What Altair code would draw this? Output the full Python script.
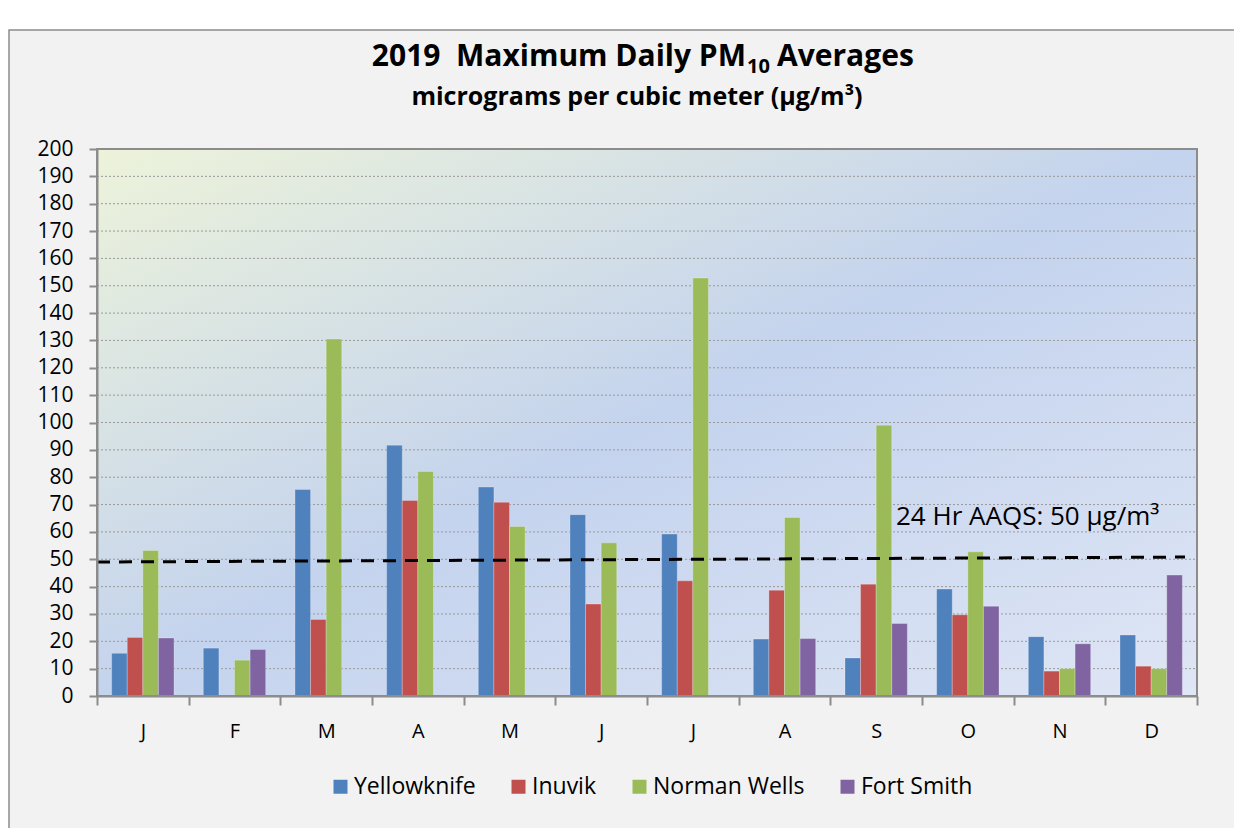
import altair as alt
import pandas as pd

# ---------------- data ----------------
months = ["Jan", "Feb", "Mar", "Apr", "May", "Jun", "Jul", "Aug", "Sep", "Oct", "Nov", "Dec"]
stations = ["Yellowknife", "Inuvik", "Norman Wells", "Fort Smith"]
colors = ["#4f81bd", "#c0504d", "#9bbb59", "#8064a2"]

yellowknife = [15.6, 17.5, 75.5, 91.7, 76.4, 66.3, 59.2, 20.8, 13.9, 39.1, 21.7, 22.3]
inuvik = [21.4, None, 28.0, 71.5, 70.8, 33.6, 42.1, 38.7, 40.9, 29.7, 9.1, 10.9]
norman_wells = [53.2, 13.1, 130.5, 82.1, 62.0, 56.0, 152.8, 65.3, 99.0, 52.7, 10.0, 10.0]
fort_smith = [21.2, 17.0, None, None, None, None, None, 21.0, 26.5, 32.8, 19.1, 44.2]

y_ticks = list(range(0, 201, 10))
standard_start = 49.0
standard_end = 50.8
standard_label = "24 Hr AAQS: 50 µg/m³"

title_main = "2019\u00a0\u00a0Maximum Daily PM"
title_sub = "10"
title_end = "Averages"
subtitle = "micrograms per cubic meter (µg/m³)"

series = [yellowknife, inuvik, norman_wells, fort_smith]
rows = []
for s, vals in zip(stations, series):
    for m, v in zip(months, vals):
        if v is not None:
            rows.append({"Month": m, "Station": s, "value": v})
df = pd.DataFrame(rows)

W, H = 1100, 547
FONT = "Open Sans"

one = pd.DataFrame({"a": [0]})

yscale = alt.Scale(domain=[0, 200], nice=False)
yaxis = alt.Axis(
    title=None, values=y_ticks, grid=False, tickSize=8, tickColor="#8c8c8c", tickWidth=2,
    domain=True, domainColor="#8c8c8c", domainWidth=2, labelOverlap=False,
    labelFontSize=21, labelFont=FONT, labelColor="#000000", labelPadding=16, zindex=1,
)

# outer frame
frame = alt.Chart(one).mark_rect(fill="#f2f2f2", stroke="#8c8c8c", strokeWidth=1.5).encode(
    x=alt.value(-88), x2=alt.value(W + 60), y=alt.value(-119), y2=alt.value(H + 160)
)

# plot background gradient
grad = alt.Chart(one).mark_rect(
    fill=alt.Gradient(
        gradient="linear", x1=0, y1=0, x2=1, y2=1,
        stops=[
            alt.GradientStop(color="#edf3da", offset=0),
            alt.GradientStop(color="#c4d3ee", offset=0.5),
            alt.GradientStop(color="#dfe6f5", offset=1),
        ],
    )
).encode(x=alt.value(0), x2=alt.value(W), y=alt.value(0), y2=alt.value(H))

grid = alt.Chart(pd.DataFrame({"t": y_ticks[1:]})).mark_rule(
    color="#999999", strokeWidth=1, strokeDash=[2, 2]
).encode(y=alt.Y("t:Q", scale=yscale, axis=yaxis), x=alt.value(0), x2=alt.value(W))

bars = alt.Chart(df).mark_bar(stroke="#ffffff", strokeOpacity=0.25, strokeWidth=1).encode(
    x=alt.X(
        "Month:N", sort=months,
        scale=alt.Scale(paddingInner=0, paddingOuter=0),
        axis=alt.Axis(
            title=None, labelExpr="substring(datum.label, 0, 1)", grid=False,
            tickBand="extent", tickSize=9, tickColor="#8c8c8c", tickWidth=2,
            domain=True, domainColor="#8c8c8c", domainWidth=2,
            labelFontSize=20, labelFont=FONT, labelColor="#000000", labelPadding=16,
            labelAngle=0, zindex=1,
        ),
    ),
    xOffset=alt.XOffset("Station:N", sort=stations, scale=alt.Scale(paddingInner=0, paddingOuter=0.94)),
    y=alt.Y("value:Q", scale=yscale, axis=yaxis),
    color=alt.Color(
        "Station:N", sort=stations,
        scale=alt.Scale(domain=stations, range=colors),
        legend=alt.Legend(
            title=None, orient="none", direction="horizontal", legendX=232, legendY=626,
            symbolType="square", symbolSize=196, symbolStrokeWidth=0,
            labelFontSize=23, labelFont=FONT, labelColor="#000000",
            columnPadding=31, symbolOffset=0, labelOffset=2, zindex=1,
        ),
    ),
)

std_line = alt.Chart(one).mark_rule(color="#000000", strokeWidth=3, strokeDash=[13, 9]).encode(
    x=alt.value(0), x2=alt.value(1088),
    y=alt.datum(standard_start, scale=yscale, axis=yaxis), y2=alt.datum(standard_end),
)

std_text = alt.Chart(one).mark_text(
    text=standard_label, align="left", baseline="alphabetic", fontSize=26, font=FONT, color="#000000"
).encode(x=alt.value(799), y=alt.value(376))

border = alt.Chart(one).mark_rect(fill="transparent", stroke="#8c8c8c", strokeWidth=2).encode(
    x=alt.value(0), x2=alt.value(W), y=alt.value(0), y2=alt.value(H)
)

t1 = alt.Chart(one).mark_text(
    text=title_main, align="right", baseline="alphabetic", fontSize=30, fontWeight="bold", font=FONT, color="#000000"
).encode(x=alt.value(649), y=alt.value(-83))
t2 = alt.Chart(one).mark_text(
    text=title_sub, align="left", baseline="alphabetic", fontSize=20, fontWeight="bold", font=FONT, color="#000000"
).encode(x=alt.value(650), y=alt.value(-76))
t3 = alt.Chart(one).mark_text(
    text=title_end, align="left", baseline="alphabetic", fontSize=30, fontWeight="bold", font=FONT, color="#000000"
).encode(x=alt.value(680), y=alt.value(-83))
t4 = alt.Chart(one).mark_text(
    text=subtitle, align="center", baseline="alphabetic", fontSize=25, fontWeight="bold", font=FONT, color="#000000"
).encode(x=alt.value(540), y=alt.value(-44))

chart = alt.layer(frame, grad, grid, bars, std_line, std_text, border, t1, t2, t3, t4).properties(
    width=W, height=H,
    autosize=alt.AutoSizeParams(type="none"),
    padding={"left": 89, "top": 141, "right": 37, "bottom": 132},
    background="#ffffff",
).configure_view(stroke=None)

chart.save("out.html", embed_options={"renderer": "svg", "actions": False})
